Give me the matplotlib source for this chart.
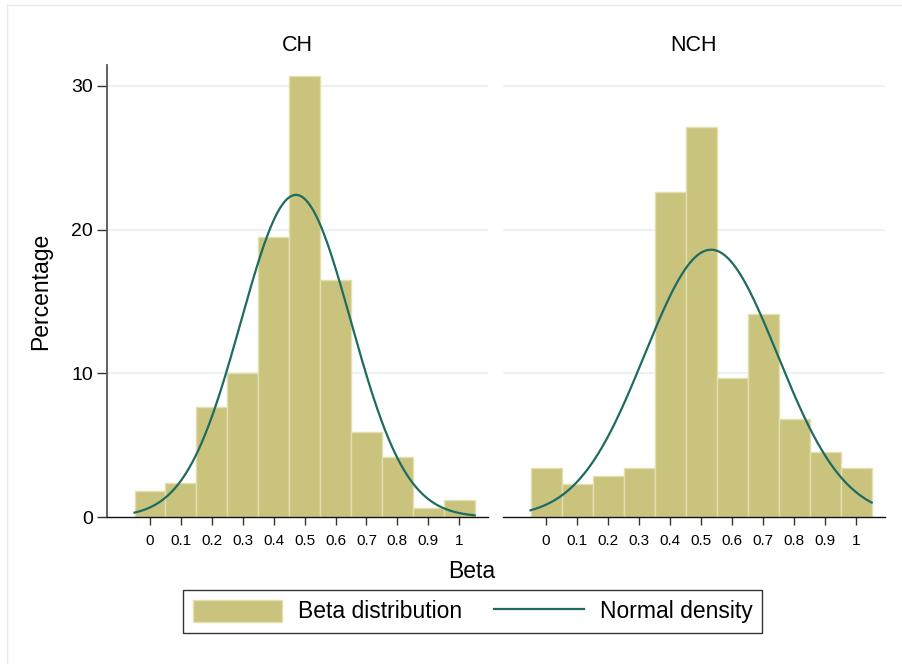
import numpy as np
import matplotlib
matplotlib.use("Agg")
import matplotlib.pyplot as plt
from matplotlib.patches import Patch
from matplotlib.lines import Line2D

plt.rcParams['font.family'] = ['Liberation Sans', 'DejaVu Sans']

# Data
bin_centers = [0.0, 0.1, 0.2, 0.3, 0.4, 0.5, 0.6, 0.7, 0.8, 0.9, 1.0]
ch_pct = [1.8, 2.4, 7.65, 10.0, 19.45, 30.65, 16.5, 5.9, 4.15, 0.6, 1.2]
nch_pct = [3.43, 2.27, 2.85, 3.43, 22.6, 27.15, 9.65, 14.15, 6.8, 4.5, 3.43]
ch_mean, ch_sd = 0.472, 0.178
nch_mean, nch_sd = 0.532, 0.2145
bin_width = 0.1
panels = ["CH", "NCH"]
xticks = [0, 0.1, 0.2, 0.3, 0.4, 0.5, 0.6, 0.7, 0.8, 0.9, 1.0]
xtick_labels = ["0", "0.1", "0.2", "0.3", "0.4", "0.5", "0.6", "0.7", "0.8", "0.9", "1"]
yticks = [0, 10, 20, 30]

bar_color = "#C9C37E"
bar_edge = "#E4E0AE"
line_color = "#1E6B62"
grid_color = "#E8F0F1"

fig = plt.figure(figsize=(9.03, 6.64), dpi=100)
W, H = 903, 664

def fx(px):
    return px / W

def fy(py):
    return 1 - py / H

# outer faint frame
fig.add_artist(Line2D([fx(7), 1.0], [fy(5), fy(5)], color="#E6EAEB", lw=1.0))
fig.add_artist(Line2D([fx(7), fx(7)], [fy(5), 0.0], color="#E6EAEB", lw=1.0))

ax_bounds = [(107, 488), (503, 885)]
top_px, bot_px = 65, 517
axes = []
datasets = [(ch_pct, ch_mean, ch_sd), (nch_pct, nch_mean, nch_sd)]
for i, ((l, r), (vals, mu, sd)) in enumerate(zip(ax_bounds, datasets)):
    ax = fig.add_axes([fx(l), fy(bot_px), fx(r - l), fy(top_px) - fy(bot_px)])
    axes.append(ax)
    ax.bar(bin_centers, vals, width=bin_width, color=bar_color,
           edgecolor=bar_edge, linewidth=1.0, zorder=2)
    xs = np.linspace(bin_centers[0] - bin_width / 2, bin_centers[-1] + bin_width / 2, 300)
    ys = 100 * bin_width * np.exp(-0.5 * ((xs - mu) / sd) ** 2) / (sd * np.sqrt(2 * np.pi))
    ax.plot(xs, ys, color=line_color, lw=1.6, zorder=3)
    ax.set_xlim(-0.139, 1.093)
    ax.set_ylim(0, 31.45)
    for yv in yticks[1:]:
        ax.axhline(yv, color=grid_color, lw=1.2, zorder=1)
    ax.set_xticks(xticks)
    ax.set_xticklabels(xtick_labels, fontsize=11)
    ax.tick_params(axis='x', length=6, width=1, color="#333333", pad=6)
    for s in ['top', 'right']:
        ax.spines[s].set_visible(False)
    ax.spines['bottom'].set_color("#111111")
    ax.spines['bottom'].set_linewidth(1.0)
    if i == 0:
        ax.set_yticks(yticks)
        ax.set_yticklabels([str(v) for v in yticks], fontsize=14)
        ax.tick_params(axis='y', length=7, width=1, color="#333333", pad=3)
        ax.spines['left'].set_color("#555555")
        ax.spines['left'].set_linewidth(1.3)
        ax.set_ylabel("Percentage", fontsize=16.5, labelpad=14)
    else:
        ax.spines['left'].set_visible(False)
        ax.set_yticks([])
    ax.set_title(panels[i], fontsize=15.5, pad=10)

fig.text(fx(472), fy(571), "Beta", fontsize=16.5, ha='center', va='center')

handles = [Patch(facecolor=bar_color, edgecolor=bar_edge, linewidth=1.0),
           Line2D([0], [0], color=line_color, lw=1.6)]
leg = fig.legend(handles, ["Beta distribution", "Normal density"], ncol=2,
                 loc='center', bbox_to_anchor=(fx(472.5), fy(611.5)),
                 fontsize=16.5, frameon=True, fancybox=False, edgecolor="black",
                 handlelength=3.9, handleheight=1.1, handletextpad=0.7,
                 columnspacing=1.4, borderpad=0.4, borderaxespad=0)
leg.get_frame().set_linewidth(1.0)

fig.savefig("out.png", dpi=100)
